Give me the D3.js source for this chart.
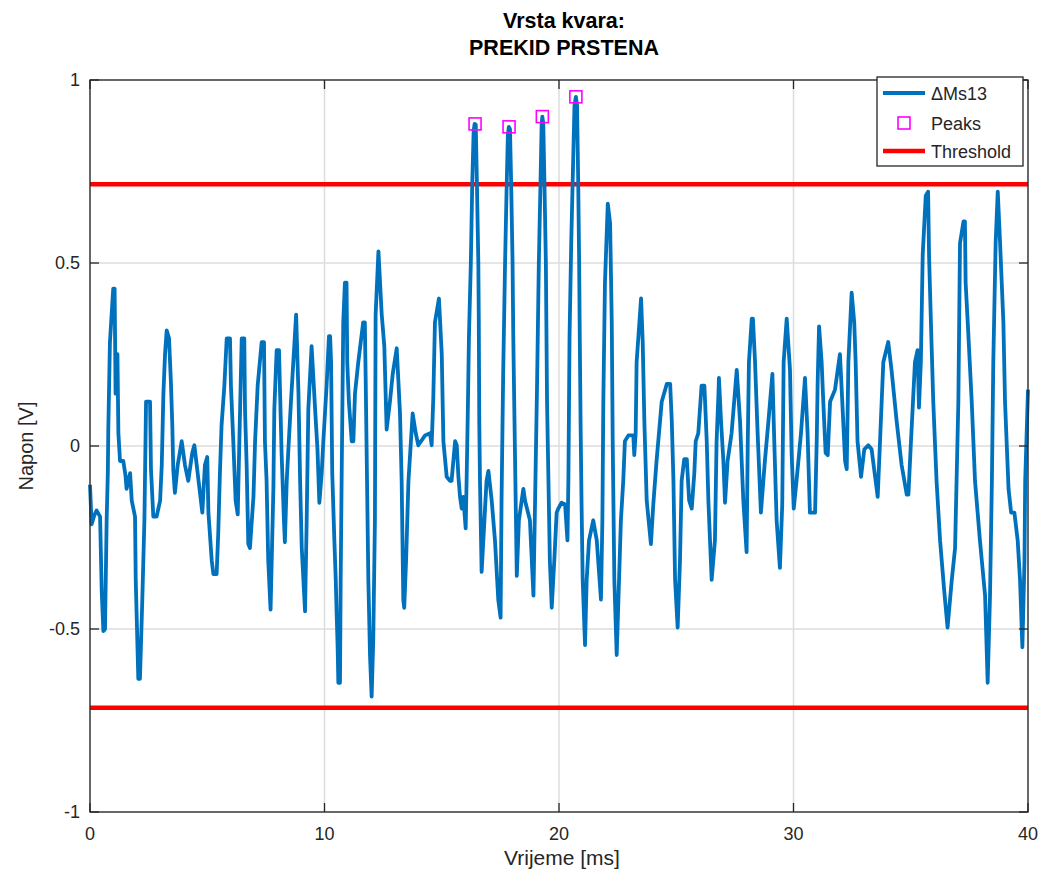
<!DOCTYPE html>
<html><head><meta charset="utf-8">
<script src="https://cdn.jsdelivr.net/npm/d3@7/dist/d3.min.js"></script>
<style>
html,body{margin:0;padding:0;background:#fff;}
text{font-family:"Liberation Sans",Arial,sans-serif;fill:#262626;}
</style></head>
<body>
<svg id="chart" width="1041" height="875"></svg>
<script>
const titleLines = ["Vrsta kvara:", "PREKID PRSTENA"];
const xLabel = "Vrijeme [ms]";
const yLabel = "Napon [V]";
const seriesNames = ["\u0394Ms13", "Peaks", "Threshold"];
const xTicks = [0, 10, 20, 30, 40];
const yTicks = [-1, -0.5, 0, 0.5, 1];
const thresholdValue = 0.715;
const peaksTime = [16.42, 17.87, 19.29, 20.72];
const peaksVoltage = [0.880, 0.872, 0.900, 0.954];
const timeMs = [0.00,0.07,0.18,0.28,0.43,0.50,0.57,0.64,0.71,0.76,0.78,0.85,0.99,1.05,1.09,1.17,1.21,1.28,1.42,1.51,1.56,1.71,1.78,1.92,1.95,2.06,2.13,2.23,2.32,2.39,2.56,2.60,2.70,2.84,2.99,3.06,3.13,3.20,3.27,3.37,3.45,3.51,3.55,3.62,3.74,3.91,4.05,4.19,4.36,4.45,4.59,4.79,4.90,5.00,5.05,5.19,5.26,5.40,5.47,5.54,5.61,5.73,5.83,5.97,6.01,6.11,6.21,6.30,6.35,6.40,6.47,6.58,6.61,6.68,6.75,6.82,6.97,7.04,7.15,7.32,7.42,7.46,7.53,7.60,7.70,7.82,7.86,7.96,8.06,8.17,8.27,8.31,8.39,8.46,8.57,8.63,8.79,8.89,8.96,9.03,9.17,9.24,9.31,9.45,9.60,9.70,9.78,9.88,9.95,10.09,10.19,10.24,10.28,10.33,10.42,10.48,10.52,10.56,10.59,10.66,10.69,10.73,10.80,10.87,10.94,10.97,11.04,11.16,11.23,11.30,11.44,11.65,11.72,11.76,11.80,11.87,11.94,12.01,12.08,12.15,12.18,12.30,12.44,12.55,12.65,12.79,12.91,13.08,13.22,13.29,13.36,13.40,13.48,13.58,13.76,13.89,14.00,14.29,14.50,14.57,14.64,14.71,14.88,15.00,15.07,15.21,15.35,15.42,15.57,15.64,15.71,15.78,15.85,15.92,16.02,16.06,16.11,16.16,16.24,16.30,16.36,16.40,16.45,16.50,16.56,16.58,16.60,16.63,16.70,16.82,16.91,16.99,17.13,17.27,17.41,17.51,17.55,17.62,17.70,17.77,17.82,17.86,17.91,17.96,18.02,18.05,18.09,18.14,18.20,18.29,18.48,18.55,18.76,18.91,18.98,19.06,19.14,19.21,19.26,19.29,19.33,19.38,19.44,19.49,19.55,19.61,19.69,19.80,19.90,19.97,20.11,20.26,20.36,20.40,20.45,20.52,20.58,20.66,20.72,20.77,20.82,20.86,20.88,20.92,20.96,21.01,21.11,21.18,21.28,21.46,21.61,21.79,21.85,21.89,21.96,22.08,22.18,22.25,22.29,22.36,22.46,22.56,22.64,22.74,22.81,22.96,23.17,23.21,23.27,23.31,23.50,23.57,23.64,23.74,23.92,24.02,24.16,24.38,24.60,24.74,24.81,24.88,24.95,25.06,25.16,25.23,25.34,25.45,25.55,25.66,25.77,25.83,25.94,26.08,26.20,26.30,26.37,26.44,26.51,26.65,26.72,26.80,26.82,26.91,27.01,27.08,27.19,27.36,27.58,27.72,27.86,28.00,28.05,28.10,28.22,28.27,28.36,28.47,28.61,28.78,28.93,29.10,29.18,29.28,29.42,29.52,29.58,29.71,29.85,29.92,30.01,30.13,30.32,30.49,30.60,30.66,30.70,30.92,30.99,31.03,31.09,31.20,31.27,31.37,31.46,31.56,31.77,31.98,32.08,32.20,32.27,32.34,32.48,32.59,32.65,32.73,32.88,33.02,33.19,33.33,33.59,33.69,33.83,34.04,34.18,34.40,34.61,34.83,34.90,35.01,35.18,35.29,35.35,35.43,35.51,35.64,35.74,35.78,35.86,35.96,36.10,36.25,36.43,36.57,36.75,36.89,37.03,37.10,37.25,37.31,37.34,37.43,37.60,37.74,37.95,38.17,38.28,38.38,38.46,38.52,38.62,38.71,38.81,38.95,39.02,39.17,39.28,39.42,39.56,39.66,39.76,39.85,39.88,40.00];
const voltage = [-0.106,-0.214,-0.19,-0.176,-0.193,-0.398,-0.506,-0.50,-0.203,-0.074,0.045,0.284,0.430,0.43,0.143,0.251,0.035,-0.041,-0.041,-0.079,-0.117,-0.074,-0.149,-0.193,-0.366,-0.636,-0.636,-0.42,-0.203,0.121,0.121,-0.063,-0.193,-0.193,-0.149,-0.052,0.143,0.251,0.316,0.294,0.175,0.056,-0.063,-0.128,-0.052,0.013,-0.052,-0.095,-0.019,0.002,-0.074,-0.182,-0.052,-0.03,-0.182,-0.312,-0.350,-0.350,-0.236,-0.074,0.056,0.165,0.294,0.294,0.165,0.013,-0.149,-0.187,-0.041,0.100,0.294,0.294,0.100,-0.052,-0.268,-0.279,-0.139,0.013,0.165,0.284,0.284,0.013,-0.095,-0.312,-0.447,-0.117,0.100,0.262,0.262,-0.019,-0.203,-0.263,-0.095,-0.009,0.121,0.186,0.359,0.143,-0.095,-0.279,-0.452,-0.203,0.100,0.273,0.100,-0.009,-0.155,-0.074,0.013,0.165,0.300,0.30,0.229,-0.074,-0.258,-0.366,-0.463,-0.550,-0.647,-0.647,-0.366,-0.095,0.338,0.446,0.446,0.229,0.121,0.013,0.013,0.143,0.229,0.338,0.338,0.165,-0.030,-0.366,-0.571,-0.685,-0.528,-0.203,0.359,0.532,0.359,0.273,0.045,0.121,0.197,0.267,0.089,-0.095,-0.420,-0.442,-0.312,-0.095,0.089,0.035,0.002,0.029,0.035,0.002,0.132,0.338,0.403,0.251,0.013,-0.084,-0.095,-0.095,0.013,0.002,-0.084,-0.139,-0.171,-0.139,-0.225,-0.095,0.089,0.300,0.500,0.716,0.860,0.880,0.878,0.716,0.500,0.338,0.067,-0.095,-0.344,-0.203,-0.095,-0.068,-0.149,-0.258,-0.420,-0.469,-0.149,0.200,0.500,0.716,0.850,0.872,0.866,0.716,0.500,0.300,0.121,-0.095,-0.355,-0.203,-0.117,-0.149,-0.203,-0.409,-0.149,0.150,0.500,0.716,0.880,0.900,0.880,0.716,0.500,0.121,-0.095,-0.312,-0.442,-0.312,-0.182,-0.171,-0.155,-0.160,-0.258,-0.095,0.300,0.550,0.716,0.930,0.954,0.930,0.716,0.500,0.338,0.067,-0.149,-0.366,-0.544,-0.366,-0.258,-0.203,-0.258,-0.420,-0.203,0.121,0.446,0.662,0.608,0.338,0.013,-0.366,-0.571,-0.366,-0.203,-0.095,0.013,0.029,0.029,-0.025,0.035,0.229,0.403,0.284,0.067,-0.149,-0.268,-0.160,-0.041,0.121,0.170,0.170,0.067,-0.095,-0.366,-0.496,-0.312,-0.095,-0.036,-0.036,-0.149,-0.171,-0.074,0.013,0.035,0.165,0.165,0.013,-0.149,-0.258,-0.366,-0.258,0.013,0.143,0.186,0.067,-0.041,-0.155,-0.041,0.035,0.208,0.067,-0.149,-0.290,0.013,0.229,0.348,0.348,0.229,0.035,-0.182,-0.041,0.067,0.197,0.013,-0.203,-0.333,-0.160,0.229,0.348,0.208,-0.019,-0.171,-0.095,0.035,0.186,0.035,-0.095,-0.182,-0.182,0.013,0.175,0.327,0.229,0.121,-0.019,-0.025,0.121,0.154,0.251,0.121,-0.041,-0.063,0.229,0.419,0.338,0.229,0.013,-0.084,-0.009,0.002,-0.009,-0.139,0.013,0.229,0.284,0.208,0.067,-0.052,-0.133,-0.133,0.013,0.229,0.262,0.105,0.229,0.522,0.684,0.695,0.522,0.338,0.121,-0.095,-0.258,-0.398,-0.496,-0.366,-0.279,0.121,0.554,0.614,0.614,0.446,0.338,0.121,-0.095,-0.258,-0.409,-0.647,-0.409,-0.095,0.229,0.554,0.695,0.554,0.338,0.121,-0.117,-0.182,-0.182,-0.258,-0.366,-0.550,-0.312,-0.095,0.154];

const m = {left: 90, right: 1028, top: 80, bottom: 812};
const svg = d3.select("#chart");
const x = d3.scaleLinear().domain([0, 40]).range([m.left, m.right]);
const y = d3.scaleLinear().domain([-1, 1]).range([m.bottom, m.top]);
const axisColor = "#262626";

// grid
const grid = svg.append("g");
grid.selectAll(".gx").data(xTicks).enter().append("line")
  .attr("x1", d => x(d)).attr("x2", d => x(d)).attr("y1", m.top).attr("y2", m.bottom)
  .attr("stroke", "#dcdcdc").attr("stroke-width", 1.5);
grid.selectAll(".gy").data(yTicks).enter().append("line")
  .attr("y1", d => y(d)).attr("y2", d => y(d)).attr("x1", m.left).attr("x2", m.right)
  .attr("stroke", "#dcdcdc").attr("stroke-width", 1.5);

// threshold lines
[thresholdValue, -thresholdValue].forEach(v => {
  svg.append("line").attr("x1", m.left).attr("x2", m.right)
    .attr("y1", y(v)).attr("y2", y(v)).attr("stroke", "#ff0000").attr("stroke-width", 4.5);
});

// signal
const data = timeMs.map((t, i) => [t, voltage[i]]);
svg.append("path").datum(data)
  .attr("fill", "none").attr("stroke", "#0072bd").attr("stroke-width", 3.8)
  .attr("stroke-linejoin", "round")
  .attr("d", d3.line().x(d => x(d[0])).y(d => y(d[1])));

// peaks
svg.selectAll(".pk").data(peaksTime.map((t, i) => [t, peaksVoltage[i]])).enter().append("rect")
  .attr("x", d => x(d[0]) - 6).attr("y", d => y(d[1]) - 6)
  .attr("width", 12).attr("height", 12)
  .attr("fill", "none").attr("stroke", "#ff00ff").attr("stroke-width", 1.6);

// axes (box with inward ticks)
const tl = 9;
const ax = svg.append("g").attr("stroke", axisColor).attr("stroke-width", 1.3);
ax.append("rect").attr("x", m.left).attr("y", m.top)
  .attr("width", m.right - m.left).attr("height", m.bottom - m.top).attr("fill", "none");
xTicks.forEach(t => {
  ax.append("line").attr("x1", x(t)).attr("x2", x(t)).attr("y1", m.bottom).attr("y2", m.bottom - tl);
  ax.append("line").attr("x1", x(t)).attr("x2", x(t)).attr("y1", m.top).attr("y2", m.top + tl);
});
yTicks.forEach(t => {
  ax.append("line").attr("y1", y(t)).attr("y2", y(t)).attr("x1", m.left).attr("x2", m.left + tl);
  ax.append("line").attr("y1", y(t)).attr("y2", y(t)).attr("x1", m.right).attr("x2", m.right - tl);
});
svg.selectAll(".xl").data(xTicks).enter().append("text")
  .attr("x", d => x(d)).attr("y", m.bottom + 28).attr("text-anchor", "middle")
  .attr("font-size", 18).text(d => String(d));
svg.selectAll(".yl").data(yTicks).enter().append("text")
  .attr("x", m.left - 10).attr("y", d => y(d) + 6).attr("text-anchor", "end")
  .attr("font-size", 18).text(d => String(d));

// labels
svg.append("text").attr("x", (m.left + m.right) / 2 + 3).attr("y", 865)
  .attr("text-anchor", "middle").attr("font-size", 21).text(xLabel);
svg.append("text").attr("transform", `translate(33,${(m.top + m.bottom) / 2}) rotate(-90)`)
  .attr("text-anchor", "middle").attr("font-size", 20).text(yLabel);
titleLines.forEach((s, i) => {
  svg.append("text").attr("x", (m.left + m.right) / 2 + 5).attr("y", 28 + i * 27)
    .attr("text-anchor", "middle").attr("font-size", 21.5).attr("font-weight", "bold")
    .style("fill", "#000").text(s);
});

// legend
const lg = svg.append("g");
lg.append("rect").attr("x", 877).attr("y", 77).attr("width", 146).attr("height", 89)
  .attr("fill", "#fff").attr("stroke", axisColor).attr("stroke-width", 1.3);
const rows = [93, 123, 151];
lg.append("line").attr("x1", 883).attr("x2", 925).attr("y1", rows[0]).attr("y2", rows[0])
  .attr("stroke", "#0072bd").attr("stroke-width", 4);
lg.append("rect").attr("x", 898).attr("y", rows[1] - 6).attr("width", 12).attr("height", 12)
  .attr("fill", "none").attr("stroke", "#ff00ff").attr("stroke-width", 1.6);
lg.append("line").attr("x1", 883).attr("x2", 925).attr("y1", rows[2]).attr("y2", rows[2])
  .attr("stroke", "#ff0000").attr("stroke-width", 4.5);
seriesNames.forEach((s, i) => {
  lg.append("text").attr("x", 931).attr("y", rows[i] + 6.5).attr("font-size", 18).text(s);
});
</script>
</body></html>
